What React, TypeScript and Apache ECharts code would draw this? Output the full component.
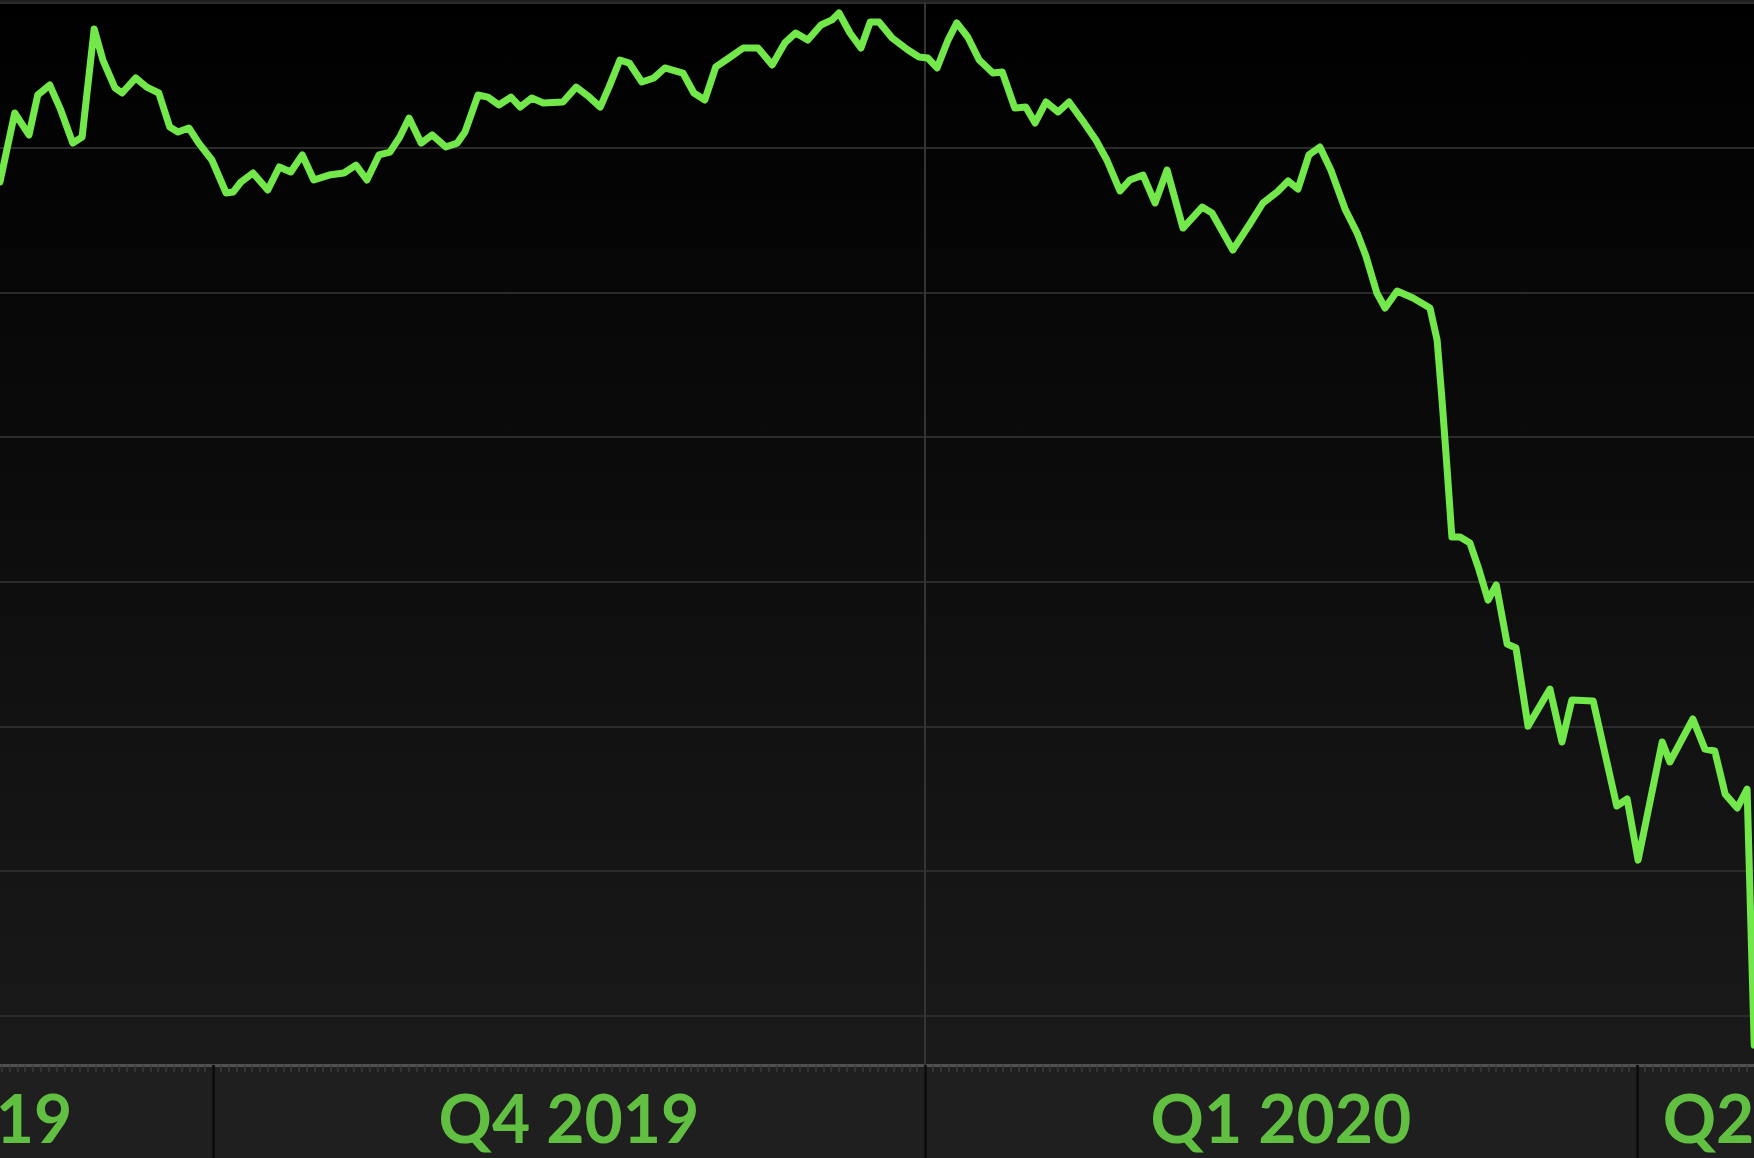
import React, { useEffect, useRef } from "react";
import * as echarts from "echarts";

// x in weeks since 1 Oct 2019 (13 weeks per quarter), y in chart units (gridlines every 10)
const weeks = [
  -3.89, -3.62, -3.36, -3.2, -2.98, -2.78, -2.56, -2.39, -2.17, -2.01,
  -1.79, -1.66, -1.41, -1.21, -0.99, -0.79, -0.64, -0.44, -0.26, -0.02,
  0.24, 0.37, 0.51, 0.73, 1.0, 1.21, 1.42, 1.63, 1.84, 2.12,
  2.39, 2.61, 2.81, 3.03, 3.23, 3.41, 3.58, 3.8, 4.0, 4.25,
  4.46, 4.6, 4.84, 5.02, 5.22, 5.44, 5.61, 5.82, 6.03, 6.39,
  6.63, 6.87, 7.07, 7.23, 7.43, 7.6, 7.83, 8.05, 8.25, 8.58,
  8.78, 8.98, 9.18, 9.42, 9.68, 9.95, 10.21, 10.44, 10.64, 10.86,
  11.1, 11.3, 11.43, 11.63, 11.83, 12.0, 12.16, 12.4, 12.69, 12.89,
  13.05, 13.22, 13.42, 13.58, 13.78, 13.99, 14.24, 14.41, 14.64, 14.84,
  15.01, 15.21, 15.43, 15.63, 15.87, 16.12, 16.32, 16.56, 16.74, 16.98,
  17.2, 17.42, 17.71, 18.06, 18.24, 18.62, 18.93, 19.17, 19.43, 19.63,
  19.81, 20.01, 20.21, 20.41, 20.67, 20.89, 21.05, 21.25, 21.4, 21.62,
  21.91, 22.22, 22.35, 22.44, 22.53, 22.62, 22.77, 22.95, 23.1, 23.28,
  23.43, 23.63, 23.79, 24.01, 24.41, 24.63, 24.81, 25.2, 25.63, 25.82,
  26.02, 26.46, 26.6, 27.02, 27.24, 27.42, 27.61, 27.83, 28.01, 28.14,
];
const prices = [
  67.63, 72.4, 70.88, 73.64, 74.33, 72.61, 70.32, 70.74, 78.2, 76.06,
  74.13, 73.78, 74.82, 74.19, 73.78, 71.43, 71.08, 71.36, 70.32, 69.15,
  66.87, 66.94, 67.63, 68.25, 67.08, 68.67, 68.32, 69.5, 67.77, 68.11,
  68.25, 68.8, 67.77, 69.5, 69.7, 70.74, 72.05, 70.32, 70.88, 70.05,
  70.32, 71.08, 73.64, 73.5, 72.95, 73.5, 72.81, 73.43, 73.09, 73.16,
  74.19, 73.5, 72.81, 74.19, 76.06, 75.85, 74.54, 74.82, 75.51, 75.16,
  73.78, 73.3, 75.58, 76.2, 76.89, 76.89, 75.72, 77.24, 77.93, 77.44,
  78.48, 78.83, 79.31, 77.93, 76.89, 78.69, 78.69, 77.58, 76.75, 76.27,
  76.2, 75.51, 77.44, 78.62, 77.65, 76.06, 75.16, 75.23, 72.74, 72.81,
  71.71, 73.16, 72.47, 73.16, 71.91, 70.53, 69.15, 67.01, 67.77, 68.11,
  66.18, 68.46, 64.45, 65.9, 65.49, 62.93, 64.73, 66.18, 66.94, 67.7,
  67.15, 69.5, 70.05, 68.46, 65.76, 64.1, 62.52, 59.96, 58.92, 60.1,
  59.61, 58.92, 56.71, 52.56, 47.93, 43.1, 43.1, 42.68, 41.02, 38.74,
  39.78, 35.7, 35.43, 30.03, 32.59, 28.93, 31.83, 31.76, 24.51, 24.99,
  20.77, 28.93, 27.55, 30.52, 28.44, 28.31, 25.33, 24.37, 25.68, 7.99,
];

const gridLevels = [10, 20, 30, 40, 50, 60, 70, 80];
const yearStarts = [13];
const quarterStarts = [0, 13, 26];
const quarterLabels = ["Q3 2019", "Q4 2019", "Q1 2020", "Q2 2020"];
const quarterLabelAt = [-4.95, 6.5, 19.5, 28.85];

const XMIN = -3.889;
const XMAX = 28.136;
const YMIN = 6.61;
const YMAX = 80;

const GREEN = "#72e84b";

export default function App() {
  const ref = useRef<HTMLDivElement>(null);
  useEffect(() => {
    if (!ref.current) return;
    const chart = echarts.init(ref.current, null, { renderer: "svg" });
    const dayTicks: number[] = [];
    for (let d = Math.ceil(XMIN * 7); d <= Math.floor(XMAX * 7); d++) dayTicks.push(d / 7);
    const data = weeks.map((w, i) => [w, prices[i]]);
    const option: any = {
      animation: false,
      backgroundColor: "#1f1f1f",
      grid: [
        {
          left: 0, right: 0, top: 3, height: 1062, show: true, borderWidth: 0,
          backgroundColor: new echarts.graphic.LinearGradient(0, 0, 0, 1, [
            { offset: 0, color: "#000000" },
            { offset: 1, color: "#1a1a1a" },
          ]),
        },
        { left: 0, right: 0, top: 1065, height: 93, show: true, borderWidth: 0, backgroundColor: "#1f1f1f" },
      ],
      xAxis: [
        {
          type: "value", gridIndex: 0, min: XMIN, max: XMAX,
          axisLine: { show: true, onZero: false, lineStyle: { color: "#4f4f4f", width: 3 } },
          axisTick: { show: true, customValues: dayTicks, length: 7, lineStyle: { color: "#3a3a3a", width: 1.5 } },
          axisLabel: { show: false },
          splitLine: { show: false },
        },
        {
          type: "value", gridIndex: 1, min: XMIN, max: XMAX, position: "top",
          axisLine: { show: false },
          axisTick: { show: false },
          axisLabel: { show: false },
          splitLine: { show: false },
        },
      ],
      yAxis: [
        { type: "value", gridIndex: 0, min: YMIN, max: YMAX, show: false, splitLine: { show: false } },
        { type: "value", gridIndex: 1, min: 0, max: 1, show: false, splitLine: { show: false } },
      ],
      series: [
        {
          type: "line", xAxisIndex: 0, yAxisIndex: 0, data, symbol: "none", showSymbol: false, z: 10,
          lineStyle: { color: GREEN, width: 7, join: "round", cap: "round" },
          markLine: {
            silent: true, z: 1, symbol: ["none", "none"], label: { show: false }, animation: false,
            data: [
              ...gridLevels.map((v) => ({ yAxis: v, lineStyle: { color: "#2b2b2b", width: 2, type: "solid" } })),
              ...yearStarts.map((x) => ({ xAxis: x, lineStyle: { color: "#343434", width: 2, type: "solid" } })),
            ],
          },
        },
        {
          type: "scatter", xAxisIndex: 1, yAxisIndex: 1, clip: false, silent: true,
          symbolSize: 1, itemStyle: { color: "rgba(0,0,0,0)" },
          data: quarterLabels.map((n, i) => ({ name: n, value: [quarterLabelAt[i], 0.44] })),
          label: {
            show: true, position: "inside", formatter: "{b}", color: GREEN,
            fontSize: 66, fontWeight: "bold", fontFamily: "Lato",
          },
          markLine: {
            silent: true, symbol: ["none", "none"], label: { show: false }, animation: false,
            data: quarterStarts.map((x) => ({ xAxis: x, lineStyle: { color: "#0a0a0a", width: 2.5, type: "solid" } })),
          },
        },
      ],
    };
    chart.setOption(option);
    return () => chart.dispose();
  }, []);
  return <div ref={ref} style={{ position: "fixed", left: 0, top: 0, width: 1754, height: 1158 }} />;
}
